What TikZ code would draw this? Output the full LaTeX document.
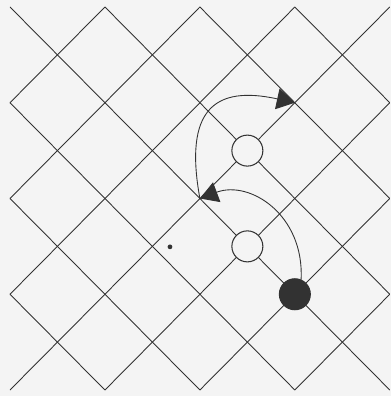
\documentclass[tikz,border=0pt]{standalone}
\usetikzlibrary{arrows.meta}
\definecolor{ink}{RGB}{50,50,50}
\definecolor{paper}{RGB}{244,244,244}
\begin{document}
\begin{tikzpicture}[
x=0.95cm, y=0.958cm,
every node/.style={
circle,
draw=ink,
line width=0.6pt,
minimum size=0.62cm,
inner sep=0pt
},
gridline/.style={draw=ink, line width=0.5pt},
jump/.style={draw=ink, line width=0.5pt, -{Triangle[length=0.36cm,width=0.42cm]}}
]

\fill[paper] (-0.21,-0.125) rectangle (8.021,8.146);
\useasboundingbox (-0.21,-0.125) rectangle (8.021,8.146);

% board lines
\begin{scope}
\clip (0,0) rectangle (8,8);
\foreach \d in {-6,-4,...,6}
  \draw[gridline] (\d,0) -- ++(8,8);
\foreach \s in {2,4,...,14}
  \draw[gridline] (\s,0) -- ++(-8,8);
\end{scope}

% speck
\fill[ink] (3.37,2.99) circle (0.05);

% pieces
\node[fill=paper] (capA) at (5,3) {};
\node[fill=paper] (capB) at (5,5) {};
\node[fill=ink] (piece) at (6,2) {};

\coordinate (land) at (4,4);
\coordinate (goal) at (6,6);

% jumps
\draw[jump] (piece.67) .. controls (6.2,3.66) and (5.05,4.39) .. (land);
\draw[jump] (land) .. controls (3.66,5.85) and (4.3,6.37) .. (goal);

\end{tikzpicture}
\end{document}
